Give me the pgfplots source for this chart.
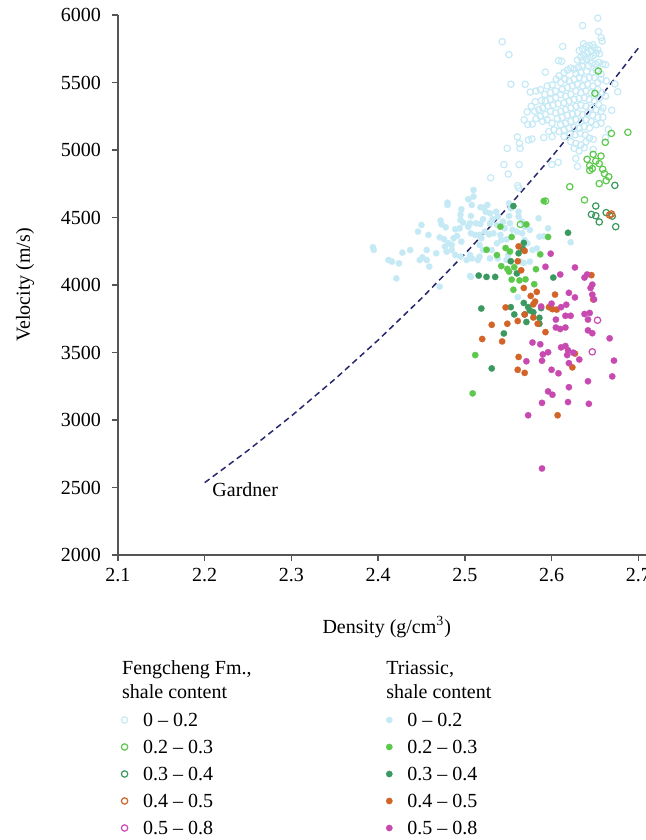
\documentclass[border=0pt]{standalone}
\usepackage{pgfplots}
\pgfplotsset{compat=1.18}
\usepackage{fontspec}
\setmainfont{Liberation Serif}

\definecolor{cLB}{RGB}{198,234,245}
\definecolor{cGR}{RGB}{92,200,76}
\definecolor{cDG}{RGB}{58,153,94}
\definecolor{cOR}{RGB}{210,100,40}
\definecolor{cMA}{RGB}{200,74,176}
\definecolor{cNV}{RGB}{40,40,110}
\definecolor{cAX}{RGB}{85,85,85}

\newcommand\legtxt[1]{\raisebox{0pt}[9.95pt][3.15pt]{\makebox[117pt][l]{#1}}}
\newcommand\legtitle[2]{\makebox[117pt][l]{\hspace*{-10.5pt}\begin{tabular}{@{}l@{}}#1\\#2\end{tabular}}}

\pgfplotsset{
  open mk/.style={only marks, mark=o, mark size=1.6pt, line width=0.6pt, color=#1},
  full mk/.style={only marks, mark=*, mark size=1.6pt, line width=0.1pt, color=#1, mark options={draw=#1, fill=#1}},
}

\begin{document}
\begin{tikzpicture}
\begin{axis}[
    name=ax,
    scale only axis,
    width=268.8pt,
    height=270pt,
    xmin=2.1, xmax=2.72,
    ymin=2000, ymax=6000,
    xtick={2.1,2.2,...,2.7},
    ytick={2000,2500,...,6000},
    axis x line*=bottom,
    axis y line*=left,
    axis line style={draw=cAX, line width=0.75pt},
    tick style={draw=cAX, line width=0.75pt},
    tick align=outside,
    major tick length=3pt,
    /pgf/number format/assume math mode=true,
    xticklabel style={/pgf/number format/fixed, /pgf/number format/fixed zerofill, /pgf/number format/precision=1},
    yticklabel style={/pgf/number format/1000 sep={}, xshift=-2pt},
    xlabel={Density (g/cm\textsuperscript{3})},
    ylabel={Velocity (m/s)},
    xlabel style={at={(axis description cs:0.5,-0.1333)}, anchor=center},
    ylabel style={at={(axis description cs:-0.173,0.5)}, anchor=center},
    clip=false,
    legend columns=2,
    legend image code/.code={\path (0pt,0pt) (9pt,0pt); \draw[#1] plot coordinates {(3pt,0pt)};},
    legend style={draw=none, fill=none, at={(0,-0.1909)}, anchor=north west,
      inner sep=0pt, outer sep=0pt, row sep=0.4pt, column sep=0pt,
      cells={anchor=west},
      nodes={inner xsep=3pt, inner ysep=0pt, text depth=, text height=}},
  ]

  % Triassic, shale content 0 - 0.2
  \addplot[full mk=cLB, forget plot] coordinates {
    (2.510,4704) (2.510,4655) (2.480,4610) (2.480,4593) (2.504,4635) (2.508,4593)
    (2.496,4561) (2.495,4521) (2.507,4511) (2.518,4576) (2.522,4573) (2.526,4593)
    (2.524,4543) (2.529,4531) (2.536,4543) (2.538,4506) (2.551,4605) (2.553,4568)
    (2.562,4543) (2.562,4506) (2.551,4511) (2.532,4487) (2.521,4487) (2.518,4452)
    (2.506,4457) (2.504,4432) (2.498,4462) (2.495,4482) (2.494,4420) (2.489,4413)
    (2.478,4427) (2.472,4477) (2.473,4450) (2.450,4445) (2.446,4395) (2.458,4371)
    (2.471,4353) (2.476,4339) (2.481,4309) (2.487,4346) (2.491,4363) (2.496,4321)
    (2.507,4383) (2.512,4371) (2.517,4371) (2.523,4395) (2.528,4375) (2.529,4457)
    (2.537,4445) (2.544,4469) (2.546,4420) (2.552,4457) (2.555,4408) (2.560,4395)
    (2.566,4383) (2.569,4432) (2.575,4408) (2.569,4333) (2.568,4296) (2.572,4309)
    (2.578,4259) (2.585,4494) (2.586,4358) (2.596,4420) (2.550,4222) (2.548,4185)
    (2.538,4197) (2.531,4259) (2.519,4346) (2.517,4296) (2.515,4185) (2.506,4222)
    (2.502,4185) (2.508,4197) (2.517,4210) (2.495,4210) (2.489,4222) (2.485,4259)
    (2.485,4296) (2.477,4284) (2.479,4247) (2.467,4235) (2.456,4259) (2.451,4205)
    (2.448,4185) (2.456,4185) (2.459,4136) (2.437,4259) (2.424,4160) (2.416,4173)
    (2.421,4049) (2.471,3988) (2.506,4067) (2.529,4197) (2.537,4309) (2.541,4371)
    (2.548,4338) (2.564,4173) (2.575,4173) (2.583,4271) (2.566,4469) (2.542,4333)
    (2.533,4383) (2.513,4457) (2.521,4259) (2.394,4280) (2.395,4260) (2.412,4185)
    (2.428,4240) (2.561,3910) (2.507,4060) (2.622,4317) (2.568,4163) (2.591,4361)
  };

  % Triassic, shale content 0.2 - 0.3
  \addplot[full mk=cGR, forget plot] coordinates {
    (2.525,4261) (2.537,4222) (2.547,4274) (2.552,4248) (2.587,4227) (2.596,4356)
    (2.554,4356) (2.542,4140) (2.549,4119) (2.551,4099) (2.557,4132) (2.582,4117)
    (2.554,4040) (2.563,4034) (2.570,4042) (2.580,4006) (2.556,3965) (2.512,3481)
    (2.509,3197) (2.541,4432) (2.571,4449) (2.591,4622)
  };

  % Triassic, shale content 0.3 - 0.4
  \addplot[full mk=cDG, forget plot] coordinates {
    (2.619,4387) (2.568,4312) (2.567,4266) (2.562,4235) (2.553,4176) (2.560,4086)
    (2.516,4070) (2.525,4060) (2.535,4060) (2.602,4055) (2.568,3867) (2.553,3836)
    (2.573,3836) (2.588,3829) (2.575,3811) (2.557,3782) (2.569,3782) (2.579,3798)
    (2.586,3757) (2.571,3726) (2.586,3713) (2.519,3826) (2.545,3641) (2.531,3382)
    (2.556,4585)
  };

  % Triassic, shale content 0.4 - 0.5
  \addplot[full mk=cOR, forget plot] coordinates {
    (2.562,4286) (2.569,4253) (2.561,4176) (2.565,4109) (2.568,3978) (2.576,3919)
    (2.583,3949) (2.604,3929) (2.581,3877) (2.579,3857) (2.547,3834) (2.597,3836)
    (2.601,3821) (2.606,3818) (2.569,3782) (2.579,3759) (2.561,3733) (2.549,3713)
    (2.531,3705) (2.584,3713) (2.593,3651) (2.520,3600) (2.543,3582) (2.648,3893)
    (2.646,4073) (2.627,3492) (2.562,3467) (2.561,3372) (2.569,3349) (2.624,3390)
    (2.607,3035)
  };

  % Triassic, shale content 0.5 - 0.8
  \addplot[full mk=cMA, forget plot] coordinates {
    (2.599,4232) (2.593,4135) (2.627,4130) (2.610,4078) (2.641,4078) (2.638,4055)
    (2.647,4003) (2.645,3978) (2.620,3942) (2.627,3908) (2.647,3929) (2.649,3893)
    (2.600,3862) (2.611,3836) (2.617,3854) (2.588,3841) (2.605,3744) (2.616,3772)
    (2.622,3772) (2.638,3785) (2.644,3793) (2.642,3744) (2.605,3685) (2.610,3674)
    (2.616,3685) (2.642,3664) (2.647,3643) (2.667,3605) (2.578,3574) (2.587,3561)
    (2.611,3538) (2.616,3548) (2.619,3517) (2.625,3499) (2.618,3481) (2.590,3486)
    (2.596,3502) (2.632,3448) (2.672,3440) (2.571,3435) (2.589,3439) (2.600,3372)
    (2.608,3346) (2.620,3421) (2.620,3243) (2.642,3287) (2.670,3323) (2.596,3212)
    (2.601,3187) (2.589,3127) (2.619,3133) (2.643,3120) (2.573,3035) (2.589,2641)
  };

  % Fengcheng Fm., shale content 0 - 0.2
  \addplot[open mk=cLB, forget plot] coordinates {
    (2.6533,5977) (2.6358,5922) (2.6541,5877) (2.6572,5832) (2.6584,5807) (2.6128,5767)
    (2.6369,5787) (2.5431,5802) (2.5509,5707) (2.5929,5577) (2.6081,5662) (2.6116,5657)
    (2.6319,5737) (2.6358,5749) (2.6397,5767) (2.6436,5774) (2.6475,5779) (2.6494,5757)
    (2.6455,5737) (2.6416,5717) (2.6377,5699) (2.6338,5687) (2.6299,5667) (2.6358,5662)
    (2.6404,5674) (2.6443,5687) (2.6482,5699) (2.6514,5717) (2.6533,5742) (2.6553,5712)
    (2.6592,5637) (2.6623,5632) (2.6545,5649) (2.6506,5637) (2.6467,5642) (2.6428,5624)
    (2.6350,5624) (2.6311,5612) (2.6260,5599) (2.6221,5607) (2.6183,5592) (2.6144,5574)
    (2.6085,5549) (2.6514,5592) (2.6572,5562) (2.6475,5574) (2.6404,5582) (2.6338,5574)
    (2.6280,5567)
    (2.6631,5512) (2.6732,5489) (2.6763,5432) (2.6572,5524) (2.6533,5499) (2.6494,5537)
    (2.6436,5537) (2.6377,5524) (2.6319,5537) (2.6260,5524) (2.6202,5512) (2.6155,5524)
    (2.6105,5499) (2.6054,5524) (2.6007,5482) (2.5949,5474) (2.5871,5447) (2.5821,5437)
    (2.5754,5429) (2.5696,5487) (2.5532,5487) (2.5922,5412) (2.5988,5424) (2.6046,5437)
    (2.6124,5449) (2.6183,5462) (2.6241,5474) (2.6299,5487) (2.6358,5474) (2.6416,5487)
    (2.6475,5474) (2.6533,5449) (2.6584,5424) (2.6623,5399) (2.6553,5387) (2.6514,5412)
    (2.6455,5424) (2.6397,5437) (2.6338,5424) (2.6280,5437) (2.6221,5412) (2.6163,5399)
    (2.6105,5412) (2.6046,5387) (2.5988,5374) (2.5929,5362) (2.5883,5367) (2.5813,5357)
    (2.5766,5324) (2.5805,5287) (2.5852,5299) (2.5898,5312) (2.5957,5324) (2.6015,5332)
    (2.6077,5342) (2.6144,5349) (2.6202,5362) (2.6260,5374) (2.6319,5382) (2.6377,5387)
    (2.6436,5374) (2.6494,5362) (2.6545,5337) (2.6592,5312) (2.6572,5287) (2.6514,5299)
    (2.6455,5312) (2.6397,5324) (2.6338,5332) (2.6280,5324) (2.6221,5312) (2.6163,5299)
    (2.6105,5287) (2.6046,5274) (2.5988,5287) (2.5929,5262) (2.5871,5249) (2.5821,5232)
    (2.6693,5294)
    (2.5719,5282) (2.5684,5224) (2.5727,5189) (2.5778,5192) (2.5898,5212) (2.5949,5224)
    (2.6007,5199) (2.6066,5232) (2.6124,5242) (2.6183,5257) (2.6241,5267) (2.6299,5274)
    (2.6358,5262) (2.6416,5274) (2.6475,5257) (2.6533,5242) (2.6592,5242) (2.6105,5187)
    (2.6163,5199) (2.6221,5212) (2.6280,5224) (2.6338,5212) (2.6397,5224) (2.6455,5212)
    (2.6514,5187) (2.6572,5199) (2.6654,5152) (2.6623,5092) (2.5968,5137) (2.6027,5149)
    (2.6085,5137) (2.6144,5149) (2.6202,5162) (2.6260,5167) (2.6319,5162) (2.6377,5174)
    (2.6436,5162) (2.6214,5117) (2.6272,5112) (2.6330,5124) (2.6389,5112) (2.6436,5087)
    (2.6482,5079) (2.6144,5099) (2.6007,5099) (2.5910,5092) (2.5774,5082) (2.5735,5074)
    (2.5630,5049) (2.5637,5012) (2.5606,5097) (2.5489,5012) (2.6221,5062) (2.6280,5049)
    (2.6338,5037) (2.6397,5062) (2.6260,5012) (2.6319,4992) (2.6377,5017) (2.6482,5004)
    (2.6280,4937)
    (2.5451,4892) (2.5501,4822) (2.5626,4892) (2.5298,4794) (2.5622,4719) (2.6077,4909)
    (2.6003,4892) (2.6299,4879) (2.561,4736)
  };

  % Fengcheng Fm., shale content 0.2 - 0.3
  \addplot[open mk=cGR, forget plot] coordinates {
    (2.669,5123) (2.688,5131) (2.662,5057) (2.648,4968) (2.657,4955) (2.641,4931)
    (2.651,4918) (2.655,4899) (2.644,4884) (2.647,4862) (2.644,4849) (2.659,4857)
    (2.661,4825) (2.666,4802) (2.663,4773) (2.655,4751) (2.621,4728) (2.638,4630)
    (2.593,4622) (2.564,4449) (2.654,5585) (2.650,5420)
  };

  % Fengcheng Fm., shale content 0.3 - 0.4
  \addplot[open mk=cDG, forget plot] coordinates {
    (2.673,4738) (2.651,4585) (2.646,4523) (2.651,4513) (2.663,4536) (2.655,4467)
    (2.674,4432) (2.670,4510)
  };

  % Fengcheng Fm., shale content 0.4 - 0.5
  \addplot[open mk=cOR, forget plot] coordinates {
    (2.667,4518) (2.669,4526)
  };

  % Fengcheng Fm., shale content 0.5 - 0.8
  \addplot[open mk=cMA, forget plot] coordinates {
    (2.653,3739) (2.647,3505)
  };

  % Gardner relation
  \addplot[cNV, line width=0.75pt, dash pattern=on 3pt off 2pt, forget plot] coordinates {
    (2.20,2536) (2.25,2775) (2.30,3030) (2.35,3302) (2.40,3592) (2.45,3901)
    (2.50,4230) (2.55,4578) (2.60,4948) (2.65,5340) (2.70,5754)
  };
  \node[anchor=west, inner sep=0pt] at (axis cs:2.2085,2481) {Gardner};

  % legend
  \addlegendimage{empty legend}
  \addlegendentry{\legtitle{Fengcheng Fm.,}{shale content}}
  \addlegendimage{empty legend}
  \addlegendentry{\legtitle{Triassic,}{shale content}}
  \addlegendimage{open mk=cLB}  \addlegendentry{\legtxt{0 -- 0.2}}
  \addlegendimage{full mk=cLB}  \addlegendentry{\legtxt{0 -- 0.2}}
  \addlegendimage{open mk=cGR}  \addlegendentry{\legtxt{0.2 -- 0.3}}
  \addlegendimage{full mk=cGR}  \addlegendentry{\legtxt{0.2 -- 0.3}}
  \addlegendimage{open mk=cDG}  \addlegendentry{\legtxt{0.3 -- 0.4}}
  \addlegendimage{full mk=cDG}  \addlegendentry{\legtxt{0.3 -- 0.4}}
  \addlegendimage{open mk=cOR}  \addlegendentry{\legtxt{0.4 -- 0.5}}
  \addlegendimage{full mk=cOR}  \addlegendentry{\legtxt{0.4 -- 0.5}}
  \addlegendimage{open mk=cMA}  \addlegendentry{\legtxt{0.5 -- 0.8}}
  \addlegendimage{full mk=cMA}  \addlegendentry{\legtxt{0.5 -- 0.8}}
\end{axis}
\pgfresetboundingbox
\path[use as bounding box] ([shift={(-59pt,-142.5pt)}]ax.south west) rectangle ([shift={(264pt,277.5pt)}]ax.south west);
\end{tikzpicture}
\end{document}
